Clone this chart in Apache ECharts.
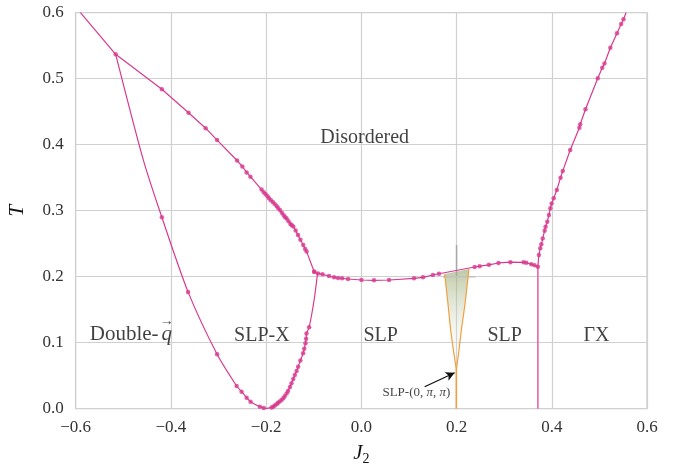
<!DOCTYPE html>
<html><head><meta charset="utf-8">
<script src="https://cdn.jsdelivr.net/npm/echarts@6/dist/echarts.min.js"></script>
<style>html,body{margin:0;padding:0;background:#fff}#c{width:683px;height:468px}</style>
</head><body><div id="c"></div>
<script>
// [J2, T, marker(1) / line vertex only(0)]
const upperLeft = [
  [-0.59,0.6,0],[-0.516,0.537,1],[-0.419,0.484,1],[-0.363,0.4485,1],[-0.327,0.425,1],[-0.303,0.407,1],
  [-0.261,0.376,1],[-0.250,0.367,1],[-0.241,0.358,1],[-0.233,0.3515,1],[-0.2096,0.332,1],[-0.205,0.328,1],
  [-0.201,0.325,1],[-0.197,0.322,1],[-0.194,0.319,1],[-0.19,0.316,1],[-0.186,0.313,1],[-0.182,0.31,1],
  [-0.178,0.307,1],[-0.175,0.304,1],[-0.171,0.301,1],[-0.167,0.297,1],[-0.163,0.293,1],[-0.16,0.29,1],
  [-0.157,0.288,1],[-0.153,0.284,1],[-0.149,0.28,1],[-0.146,0.278,1],[-0.143,0.276,1],[-0.138,0.27,1],
  [-0.133,0.263,1],[-0.128,0.256,1],[-0.122,0.248,1],[-0.118,0.242,1],[-0.115,0.238,1],[-0.099,0.2076,1]
];
const lowerLeft = [
  [-0.516,0.537,0],[-0.458,0.377,0],[-0.419,0.29,1],[-0.364,0.177,1],[-0.303,0.0824,1],[-0.262,0.0344,1],
  [-0.2516,0.0258,1],[-0.241,0.0167,1],[-0.2327,0.0106,1],[-0.2132,0.003,1],[-0.205,0.001,1],[-0.199,0.0006,0],
  [-0.1886,0.002,1],[-0.185,0.003,1],[-0.182,0.005,1],[-0.178,0.0067,1],[-0.175,0.009,1],[-0.1715,0.011,1],
  [-0.1676,0.013,1],[-0.164,0.016,1],[-0.161,0.019,1],[-0.157,0.023,1],[-0.154,0.027,1],[-0.15,0.033,1],
  [-0.1467,0.0385,1],[-0.143,0.045,1],[-0.1397,0.051,1],[-0.136,0.057,1],[-0.1328,0.0636,1],[-0.128,0.073,1],
  [-0.1223,0.084,1],[-0.12,0.091,1],[-0.1173,0.099,1],[-0.116,0.106,1],[-0.1152,0.114,1],[-0.1097,0.1233,1],
  [-0.0992,0.1647,0],[-0.092,0.205,0]
];
const middle = [
  [-0.099,0.2076,1],[-0.091,0.205,1],[-0.0816,0.2036,1],[-0.0678,0.201,1],[-0.0573,0.199,1],[-0.0489,0.198,1],
  [-0.0405,0.1976,1],[-0.0279,0.1965,1],[0.0002,0.195,1],[0.0266,0.1945,1],[0.0581,0.195,1],[0.1106,0.1976,1],
  [0.1295,0.199,1],[0.1504,0.2026,1],[0.163,0.2045,1],[0.238,0.2147,1],[0.2484,0.216,1],[0.268,0.218,1],
  [0.288,0.2208,1],[0.313,0.222,1],[0.3407,0.2218,1],[0.3464,0.2212,1],[0.357,0.219,1],[0.3638,0.2173,1],
  [0.3708,0.2152,1]
];
const rightBranch = [
  [0.3708,0.2152,0],[0.3729,0.2329,1],[0.3758,0.243,1],[0.378,0.249,1],[0.381,0.258,1],[0.385,0.2697,1],
  [0.387,0.2758,1],[0.3905,0.2833,1],[0.394,0.2935,1],[0.397,0.3036,1],[0.3997,0.311,1],[0.404,0.3188,1],
  [0.4106,0.3314,1],[0.4184,0.35,1],[0.423,0.36,1],[0.4387,0.392,1],[0.458,0.4258,1],[0.4597,0.431,1],
  [0.4708,0.4536,1],[0.4966,0.5006,1],[0.506,0.5167,1],[0.5107,0.523,1],[0.523,0.547,1],[0.537,0.5687,1],
  [0.5457,0.5829,1],[0.5506,0.59,1],[0.556,0.6,0]
];
const verticalLine = [[0.3708,0.2152],[0.3708,0]];
const orangeLeft = [[0.175,0.204],[0.1818,0.16],[0.1876,0.119],[0.1935,0.088],[0.1995,0.0586]];
const orangeRight = [[0.226,0.2115],[0.218,0.16],[0.210,0.119],[0.205,0.088],[0.1995,0.0586]];
const orangeStem = [[0.1995,0.0586],[0.1995,0]];
const grayV = [[0.2,0.248],[0.2,0.2]];
const grayH = [[0.171,0.2],[0.24,0.2]];
const xTicks = [-0.6,-0.4,-0.2,0.0,0.2,0.4,0.6];
const yTicks = [0.0,0.1,0.2,0.3,0.4,0.5,0.6];

const PINK = '#d83a8f';
const SERIF = '"Liberation Serif","DejaVu Serif",serif';
const TXT = '#111';
const fmt = v => (v < 0 ? '\u2212' + Math.abs(v).toFixed(1) : v.toFixed(1));

function curveSeries(arr, smooth) {
  return [{
    type:'line', data: arr.map(p=>[p[0],p[1]]), showSymbol:false, smooth: smooth||false,
    lineStyle:{color:PINK,width:1.2}, itemStyle:{color:PINK}, z:3, silent:true
  },{
    type:'scatter', data: arr.filter(p=>p[2]).map(p=>[p[0],p[1]]), symbolSize:4.5,
    itemStyle:{color:PINK}, z:4, silent:true
  }];
}
function plainLine(arr, color, width, z) {
  return {type:'line', data:arr, showSymbol:false, lineStyle:{color:color,width:width}, z:z||2, silent:true};
}
const fillPoly = orangeLeft.concat(orangeRight.slice().reverse());

function textLabel(x, y, txt, size, rich) {
  return {type:'scatter', data:[[x,y]], symbolSize:0, silent:true, z:6,
    label:{show:true, position:'inside', formatter:txt, fontFamily:SERIF, fontSize:size, color:TXT, rich:rich||{}}};
}

const chart = echarts.init(document.getElementById('c'));
chart.setOption({
  animation:false,
  grid:{left:75.7, right:36, top:12.7, bottom:59.3, show:true, borderColor:'#cccccc', borderWidth:1.2,
        containLabel:false, outerBoundsMode:'none'},
  xAxis:{type:'value', min:-0.6, max:0.6, interval:0.2,
    axisLine:{show:false}, axisTick:{show:false},
    splitLine:{lineStyle:{color:'#d0d0d0',width:1.2}},
    axisLabel:{formatter:fmt, fontFamily:SERIF, fontSize:17, color:'#333', margin:10},
    name:'{i|J}{s|2}', nameLocation:'middle', nameGap:32,
    nameTextStyle:{rich:{i:{fontFamily:SERIF,fontStyle:'italic',fontSize:21,color:TXT},
      s:{fontFamily:SERIF,fontSize:14,color:TXT,verticalAlign:'bottom',padding:[12,0,0,0]}}}
  },
  yAxis:{type:'value', min:0, max:0.6, interval:0.1,
    axisLine:{show:false}, axisTick:{show:false},
    splitLine:{lineStyle:{color:'#d0d0d0',width:1.2}},
    axisLabel:{formatter:v=>v.toFixed(1), fontFamily:SERIF, fontSize:17, color:'#333', margin:12},
    name:'T', nameLocation:'middle', nameGap:48,
    nameTextStyle:{fontFamily:SERIF, fontStyle:'italic', fontSize:21, color:TXT}
  },
  series:[
    {type:'custom', silent:true, z:1, data:[0],
     renderItem:(params, api)=>({type:'polygon', shape:{points:fillPoly.map(p=>api.coord(p))},
       style:{fill:new echarts.graphic.LinearGradient(0,0,0,1,[
         {offset:0,color:'rgba(150,168,110,0.62)'},{offset:1,color:'rgba(255,255,255,0)'}])}})},
    plainLine(grayV,'#a8a8a8',1.5,1),
    plainLine(grayH,'#c0c0c0',1.4,1),
    ...curveSeries(upperLeft),
    ...curveSeries(lowerLeft, 0.25),
    ...curveSeries(middle),
    ...curveSeries(rightBranch),
    plainLine(verticalLine,'#e466ae',1.6,2),
    plainLine(orangeLeft,'#f0a040',1.2,2),
    plainLine(orangeRight,'#f0a040',1.2,2),
    plainLine(orangeStem,'#f0a040',1.6,2),
    {type:'line', data:[], silent:true,
     markLine:{silent:true, symbol:['none','arrow'], symbolSize:[7,9], animation:false,
       label:{show:false}, lineStyle:{color:'#111',width:1.3,type:'solid'},
       data:[[{coord:[0.133,0.0333]},{coord:[0.196,0.0545]}]]}},
    textLabel(0.007,0.41,'Disordered',20),
    textLabel(-0.484,0.112,'Double-{q|q}',21,{q:{fontFamily:SERIF,fontStyle:'italic',fontSize:21,color:TXT,padding:[0,0,0,3]}}),
    textLabel(-0.409,0.132,'\u2192',14),
    textLabel(-0.209,0.11,'SLP-X',20),
    textLabel(0.0405,0.11,'SLP',20),
    textLabel(0.301,0.11,'SLP',20),
    textLabel(0.494,0.11,'\u0393X',20),
    textLabel(0.1156,0.0238,'SLP-(0, {p|\u03C0}, {p|\u03C0})',13,{p:{fontFamily:SERIF,fontStyle:'italic',fontSize:13,color:TXT}})
  ]
});
</script></body></html>
